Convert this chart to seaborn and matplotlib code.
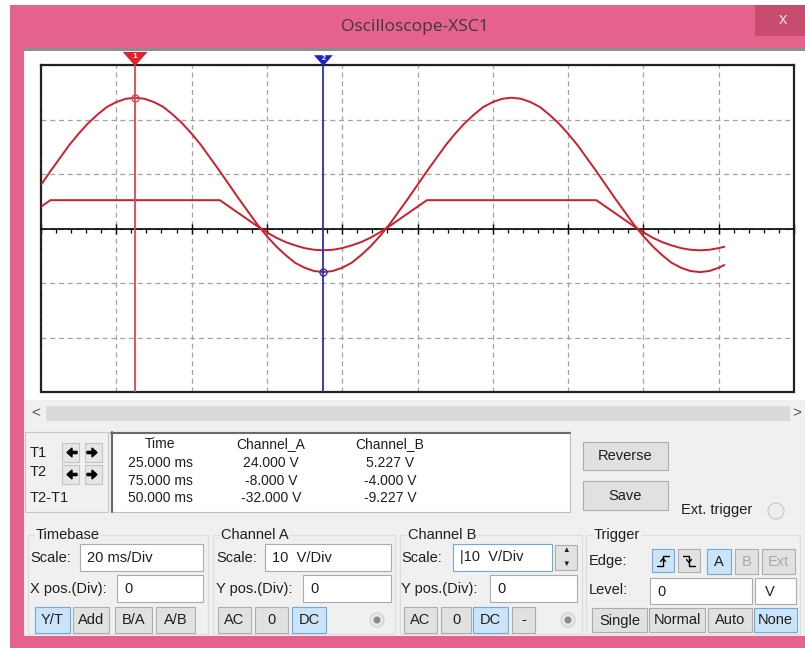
import matplotlib
matplotlib.use('Agg')
import matplotlib.pyplot as plt
from matplotlib.patches import Rectangle, Polygon, Circle
import numpy as np
import pandas as pd
import seaborn as sns

time_ms = np.append(np.arange(0, 180.1, 2.5), 181.5)

# Channel A (V) - the big sine
chan_a = [8.0, 10.5, 12.9, 15.3, 17.4, 19.3, 20.9, 22.3, 23.2, 23.8,
          24.0, 23.8, 23.2, 22.3, 20.9, 19.3, 17.4, 15.3, 12.9, 10.5,
          8.0, 5.5, 3.1, 0.7, -1.4, -3.3, -4.9, -6.3, -7.2, -7.8,
          -8.0, -7.8, -7.2, -6.3, -4.9, -3.3, -1.4, 0.7, 3.1, 5.5,
          8.0, 10.5, 12.9, 15.3, 17.4, 19.3, 20.9, 22.3, 23.2, 23.8,
          24.0, 23.8, 23.2, 22.3, 20.9, 19.3, 17.4, 15.3, 12.9, 10.5,
          8.0, 5.5, 3.1, 0.7, -1.4, -3.3, -4.9, -6.3, -7.2, -7.8,
          -8.0, -7.8, -7.2, -6.7]

# Channel B (V) - clipped on top
chan_b = [4.0, 5.2, 5.2, 5.2, 5.2, 5.2, 5.2, 5.2, 5.2, 5.2,
          5.2, 5.2, 5.2, 5.2, 5.2, 5.2, 5.2, 5.2, 5.2, 5.2,
          4.0, 2.8, 1.6, 0.4, -0.7, -1.7, -2.5, -3.1, -3.6, -3.9,
          -4.0, -3.9, -3.6, -3.1, -2.5, -1.7, -0.7, 0.4, 1.6, 2.8,
          4.0, 5.2, 5.2, 5.2, 5.2, 5.2, 5.2, 5.2, 5.2, 5.2,
          5.2, 5.2, 5.2, 5.2, 5.2, 5.2, 5.2, 5.2, 5.2, 5.2,
          4.0, 2.8, 1.6, 0.4, -0.7, -1.7, -2.5, -3.1, -3.6, -3.9,
          -4.0, -3.9, -3.6, -3.35]

# Cursor positions (ms)
t1, t2 = 25.0, 75.0

# Readout table
readout_cols = ['Time', 'Channel_A', 'Channel_B']
readout_rows = [['25.000 ms', '24.000 V', '5.227 V'],
                ['75.000 ms', '-8.000 V', '-4.000 V'],
                ['50.000 ms', '-32.000 V', '-9.227 V']]

# Colours
PINK = '#E4628B'
PINK_DARK = '#C84B70'
PANEL = '#F0F0F0'
BTN = '#E1E1E1'
BTN_EDGE = '#ADADAD'
SEL = '#CCE4F7'
SEL_EDGE = '#6FA9DE'
TXT = '#1E1E1E'
TRACE = '#CE1E2B'
CUR1 = '#DA4652'
CUR2 = '#2B2BC0'

sns.set_theme(style='white')
plt.rcParams['font.family'] = ['Liberation Sans', 'DejaVu Sans']

fig = plt.figure(figsize=(8.05, 6.48), dpi=100)
fig.patch.set_facecolor('white')

# Pixel canvas for the window chrome
ui = fig.add_axes([0, 0, 1, 1], zorder=0)
ui.set_xlim(0, 805)
ui.set_ylim(648, 0)
ui.axis('off')


def rect(x0, y0, x1, y1, face, edge='none', lw=1.0, z=1):
    ui.add_patch(Rectangle((x0, y0), x1 - x0, y1 - y0, facecolor=face,
                           edgecolor=edge, linewidth=lw, zorder=z))


def txt(x, y, s, size=10.5, ha='left', color=TXT, **kw):
    ui.text(x, y, s, fontsize=size, ha=ha, va='center', color=color, zorder=5, **kw)


def button(x0, y0, x1, y1, s, sel=False, grey=False):
    rect(x0, y0, x1, y1, SEL if sel else BTN, SEL_EDGE if sel else BTN_EDGE, lw=0.8, z=2)
    txt((x0 + x1) / 2, (y0 + y1) / 2 + 0.5, s, ha='center', color='#A8A8A8' if grey else TXT)


def field(x0, y0, x1, y1, s, pad=7):
    rect(x0, y0, x1, y1, 'white', '#ABABAB', lw=0.8, z=2)
    txt(x0 + pad, (y0 + y1) / 2 + 0.5, s)


def group(x0, x1, label):
    rect(x0, 535, x1, 634, 'none', '#DCDCDC', lw=0.8, z=1)
    ui.text(x0 + 8, 535, label, fontsize=10.5, ha='left', va='center', color=TXT,
            zorder=5, bbox=dict(facecolor=PANEL, edgecolor='none', pad=1))


def edge_glyph(xc, yc, rising=True):
    s = 1 if rising else -1
    ui.plot([xc - 6 * s, xc, xc, xc + 6 * s], [yc + 5, yc + 5, yc - 5, yc - 5],
            color='black', lw=1.0, zorder=4)
    ui.plot([xc - 2.5, xc, xc + 2.5], [yc + 1 * s, yc - 2 * s, yc + 1 * s],
            color='black', lw=1.0, zorder=4)


# Window frame and title bar
rect(10, 5, 805, 648, PINK)
rect(755, 5, 805, 36, PINK_DARK)
txt(783, 19, 'x', size=12, ha='center', color='#F7DCE4')
ui.text(415, 27, 'Oscilloscope-XSC1', fontsize=12.5, ha='center', va='center',
        color='#3A3A3A', family=['Open Sans', 'DejaVu Sans'], zorder=5)
rect(24, 48, 805, 636, PANEL)
rect(24, 48, 805, 51, '#8E8E8E')
rect(24, 51, 805, 400, 'white')

# Scrollbar
rect(46, 406, 790, 421, '#DADADA')
txt(36, 413, '<', size=11, ha='center', color='#555555')
txt(797, 413, '>', size=11, ha='center', color='#555555')

# Cursor panel
rect(25, 432, 108, 512, 'none', '#C8C8C8', lw=0.8)
txt(30, 453, 'T1')
txt(30, 472, 'T2')
txt(30, 498, 'T2-T1')
for yb in (443, 465):
    for xb in (62, 85):
        rect(xb, yb, xb + 17, yb + 19, '#E6E6E6', '#C4C4C4', lw=0.8, z=2)
    ui.arrow(77, yb + 9.5, -10, 0, width=2.2, head_width=9, head_length=5,
             length_includes_head=True, color='black', zorder=3)
    ui.arrow(87, yb + 9.5, 10, 0, width=2.2, head_width=9, head_length=5,
             length_includes_head=True, color='black', zorder=3)

rect(111, 432, 570, 512, 'white', '#BDBDBD', lw=0.8, z=2)
ui.plot([111, 570], [432.5, 432.5], color='#6A6A6A', lw=1.5, zorder=3)
ui.plot([111.5, 111.5], [432, 512], color='#6A6A6A', lw=1.5, zorder=3)
col_x = [160, 271, 390]
for cx, head in zip(col_x, readout_cols):
    txt(cx, 444, head, size=10, ha='center')
for ry, row in zip((463, 481, 498), readout_rows):
    for cx, val in zip(col_x, row):
        txt(cx, ry, val, size=10, ha='center')

button(583, 442, 668, 470, 'Reverse')
button(583, 481, 668, 510, 'Save')
txt(681, 510, 'Ext. trigger')
ui.add_patch(Circle((776, 511), 8, facecolor='#EEEEEE', edgecolor='#C6C6C6', lw=0.8, zorder=2))

# Bottom control groups
group(28, 208, 'Timebase')
group(213, 395, 'Channel A')
group(400, 582, 'Channel B')
group(586, 800, 'Trigger')

txt(30, 558, 'Scale:')
field(80, 544, 203, 571, '20 ms/Div')
txt(30, 589, 'X pos.(Div):')
field(117, 575, 203, 602, '0')
button(35, 607, 70, 633, 'Y/T', sel=True)
button(73, 607, 109, 633, 'Add')
button(115, 607, 152, 633, 'B/A')
button(156, 607, 195, 633, 'A/B')

txt(216, 558, 'Scale:')
field(265, 544, 391, 571, '10  V/Div')
txt(216, 589, 'Y pos.(Div):')
field(303, 575, 391, 602, '0')
button(218, 607, 251, 633, 'AC')
button(255, 607, 288, 633, '0')
button(292, 607, 326, 633, 'DC', sel=True)

txt(401, 558, 'Scale:')
rect(453, 544, 552, 571, 'white', SEL_EDGE, lw=0.8, z=2)
txt(460, 557.5, '|10  V/Div')
rect(555, 545, 577, 570, BTN, BTN_EDGE, lw=0.8, z=2)
txt(566, 551, '\u25b2', size=5.5, ha='center')
txt(566, 564, '\u25bc', size=5.5, ha='center')
txt(401, 589, 'Y pos.(Div):')
field(490, 575, 577, 602, '0')
button(404, 607, 437, 633, 'AC')
button(441, 607, 471, 633, '0')
button(473, 607, 508, 633, 'DC', sel=True)
button(512, 607, 535, 633, '-')

for rx in (377, 568):
    ui.add_patch(Circle((rx, 620), 7, facecolor='#E8E8E8', edgecolor='#CDCDCD', lw=0.8, zorder=2))
    ui.add_patch(Circle((rx, 620), 3.5, facecolor='#8A8A8A', edgecolor='none', zorder=3))

txt(589, 561, 'Edge:')
button(652, 549, 674, 572, '', sel=True)
edge_glyph(663, 560.5, rising=True)
button(678, 549, 700, 572, '')
edge_glyph(689, 560.5, rising=False)
button(707, 549, 731, 574, 'A', sel=True)
button(735, 549, 758, 574, 'B', grey=True)
button(762, 549, 795, 574, 'Ext', grey=True)
txt(589, 590, 'Level:')
field(650, 578, 752, 604, '0')
rect(755, 578, 796, 604, 'white', '#ABABAB', lw=0.8, z=2)
txt(770, 591.5, 'V', ha='center')
button(592, 608, 647, 632, 'Single')
button(649, 608, 705, 632, 'Normal')
button(708, 608, 752, 632, 'Auto')
button(754, 608, 797, 632, 'None', sel=True)

# Scope screen: 10 div x 6 div, 20 ms/div and 10 V/div
ax = fig.add_axes([41 / 805, 1 - 392 / 648, 753 / 805, 327 / 648], zorder=2)
ax.set_facecolor('white')

traces = pd.DataFrame({'time_ms': time_ms, 'Channel_A': chan_a, 'Channel_B': chan_b})
sns.lineplot(data=traces, x='time_ms', y='Channel_A', ax=ax, color=TRACE,
             lw=1.4, estimator=None, sort=False, zorder=4)
sns.lineplot(data=traces, x='time_ms', y='Channel_B', ax=ax, color=TRACE,
             lw=1.4, estimator=None, sort=False, zorder=4)

ax.set_xlim(0, 200)
ax.set_ylim(-30, 30)
ax.set_xticks(np.arange(0, 201, 20))
ax.set_xticks(np.arange(0, 201, 4), minor=True)
ax.set_yticks(np.arange(-30, 31, 10))
ax.grid(True, which='major', color='#A2A2A2', ls=(0, (4, 3)), lw=0.9)
ax.set_xlabel('')
ax.set_ylabel('')

# zero line carries the small division ticks
ax.spines['bottom'].set_position(('data', 0))
ax.spines['bottom'].set_color('black')
ax.spines['bottom'].set_linewidth(1.2)
for side in ('top', 'left', 'right'):
    ax.spines[side].set_color('#222222')
    ax.spines[side].set_linewidth(1.6)
ax.plot([0, 1], [0, 0], transform=ax.transAxes, color='#222222', lw=1.6, clip_on=False)
ax.tick_params(axis='x', which='major', direction='inout', length=7, width=1,
               color='black', bottom=True, labelbottom=False)
ax.tick_params(axis='x', which='minor', direction='out', length=3, width=0.9,
               color='black', bottom=True)
ax.tick_params(axis='y', left=False, labelleft=False)

# Cursors
xt = ax.get_xaxis_transform()
ax.axvline(t1, color=CUR1, lw=1.3, zorder=5)
ax.axvline(t2, color=CUR2, lw=1.3, zorder=5)
ax.add_patch(Polygon([(t1 - 3.3, 1.04), (t1 + 3.3, 1.04), (t1, 0.997)], closed=True,
                     transform=xt, facecolor='#E0202A', edgecolor='none', clip_on=False, zorder=6))
ax.add_patch(Polygon([(t2 - 2.5, 1.03), (t2 + 2.5, 1.03), (t2, 0.997)], closed=True,
                     transform=xt, facecolor='#2020C8', edgecolor='none', clip_on=False, zorder=6))
ax.text(t1, 1.027, '1', transform=xt, fontsize=6, color='white', ha='center', va='center',
        fontweight='bold', zorder=7)
ax.text(t2, 1.02, '2', transform=xt, fontsize=5, color='white', ha='center', va='center',
        fontweight='bold', zorder=7)
ax.plot([t1], [np.interp(t1, time_ms, chan_a)], 'o', ms=5, mfc='none', mec=CUR1, mew=1, zorder=6)
ax.plot([t2], [np.interp(t2, time_ms, chan_a)], 'o', ms=5, mfc='none', mec=CUR2, mew=1, zorder=6)

fig.savefig('out.png', dpi=100, facecolor=fig.get_facecolor())
